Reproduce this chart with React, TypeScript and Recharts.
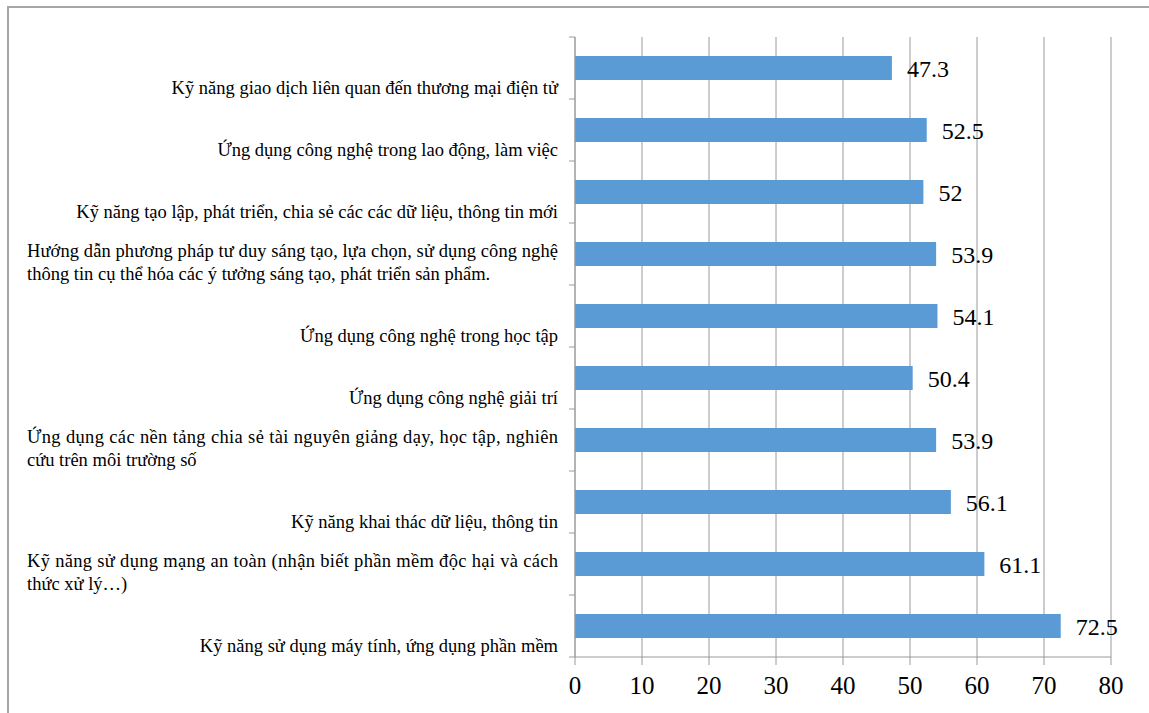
import React from 'react';
import { BarChart, Bar, XAxis, YAxis, CartesianGrid, LabelList } from 'recharts';

const categories: string[] = [
  'Kỹ năng giao dịch liên quan đến thương mại điện tử',
  'Ứng dụng công nghệ trong lao động, làm việc',
  'Kỹ năng tạo lập, phát triển, chia sẻ các các dữ liệu, thông tin mới',
  'Hướng dẫn phương pháp tư duy sáng tạo, lựa chọn, sử dụng công nghệ\nthông tin cụ thể hóa các ý tưởng sáng tạo, phát triển sản phẩm.',
  'Ứng dụng công nghệ trong học tập',
  'Ứng dụng công nghệ giải trí',
  'Ứng dụng các nền tảng chia sẻ tài nguyên giảng dạy, học tập, nghiên\ncứu trên môi trường số',
  'Kỹ năng khai thác dữ liệu, thông tin',
  'Kỹ năng sử dụng mạng an toàn (nhận biết phần mềm độc hại và cách\nthức xử lý…)',
  'Kỹ năng sử dụng máy tính, ứng dụng phần mềm',
];

const values: number[] = [47.3, 52.5, 52, 53.9, 54.1, 50.4, 53.9, 56.1, 61.1, 72.5];

const xTicks: number[] = [0, 10, 20, 30, 40, 50, 60, 70, 80];

const data = categories.map((c, i) => ({ name: c, value: values[i] }));

const FONT = 'Liberation Serif';
const GRAY = '#9a9a9a';
const WRAP_WIDTH = 531;

const CategoryTick = (props: any) => {
  const { x, y, payload, index, visibleTicksCount } = props;
  const half = payload && typeof payload.offset === 'number' && payload.offset > 0 ? payload.offset : 31;
  const lines = String(payload.value).split('\n');
  const axisX = x + 17;
  const lineH = 23;
  const lastY = y + 20;
  const isLast = index === (visibleTicksCount ?? categories.length) - 1;
  const multi = lines.length > 1;
  return (
    <g>
      <line x1={axisX - 6} x2={axisX} y1={y - half} y2={y - half} stroke={GRAY} strokeWidth={1} />
      {isLast && (
        <line x1={axisX - 6} x2={axisX} y1={y + half} y2={y + half} stroke={GRAY} strokeWidth={1} />
      )}
      {lines.map((l, i) => {
        const ly = lastY - (lines.length - 1 - i) * lineH;
        if (!multi) {
          return (
            <text key={i} x={x} y={ly} textAnchor="end" dominantBaseline="central" fontFamily={FONT} fontSize={18.5} fill="#000">
              {l}
            </text>
          );
        }
        return (
          <text
            key={i}
            x={x - WRAP_WIDTH}
            y={ly}
            textAnchor="start"
            dominantBaseline="central"
            fontFamily={FONT}
            fontSize={18.5}
            fill="#000"
            {...(i === 0 ? { textLength: WRAP_WIDTH, lengthAdjust: 'spacing' } : {})}
          >
            {l}
          </text>
        );
      })}
    </g>
  );
};

const XTick = (props: any) => {
  const { x, y, payload } = props;
  return (
    <text x={x} y={y} textAnchor="middle" fontFamily={FONT} fontSize={25} fill="#000" dy="0.71em">
      {payload.value}
    </text>
  );
};

const ValueLabel = (props: any) => {
  const { x, y, width, height, value } = props;
  return (
    <text
      x={x + width + 15}
      y={y + height / 2 + 1}
      textAnchor="start"
      dominantBaseline="central"
      fontFamily={FONT}
      fontSize={24}
      fill="#000"
    >
      {value}
    </text>
  );
};

export default function App() {
  return (
    <div style={{ position: 'absolute', left: 0, top: 0, width: 1149, height: 713, background: '#fff', fontFamily: FONT }}>
      <div
        style={{
          position: 'absolute',
          left: 7,
          top: 6,
          width: 1142,
          height: 707,
          borderTop: '2px solid #a6a6a6',
          borderLeft: '2px solid #a6a6a6',
          boxSizing: 'border-box',
        }}
      />
      <div style={{ position: 'absolute', left: 0, top: 0 }}>
        <BarChart
          width={1149}
          height={713}
          data={data}
          layout="vertical"
          margin={{ top: 37, right: 38, bottom: 6, left: 0 }}
          barCategoryGap={0}
        >
          <CartesianGrid horizontal={false} vertical={true} stroke={GRAY} strokeWidth={1} />
          <XAxis
            type="number"
            domain={[0, 80]}
            ticks={xTicks}
            interval={0}
            height={50}
            tickSize={8}
            tickMargin={11}
            axisLine={{ stroke: GRAY }}
            tickLine={{ stroke: GRAY }}
            tick={<XTick />}
            allowDataOverflow
          />
          <YAxis
            type="category"
            dataKey="name"
            width={575}
            interval={0}
            tickSize={0}
            tickMargin={17}
            axisLine={{ stroke: GRAY }}
            tickLine={false}
            tick={<CategoryTick />}
          />
          <Bar dataKey="value" fill="#5B9BD5" barSize={24} isAnimationActive={false}>
            <LabelList dataKey="value" content={<ValueLabel />} />
          </Bar>
        </BarChart>
      </div>
    </div>
  );
}
